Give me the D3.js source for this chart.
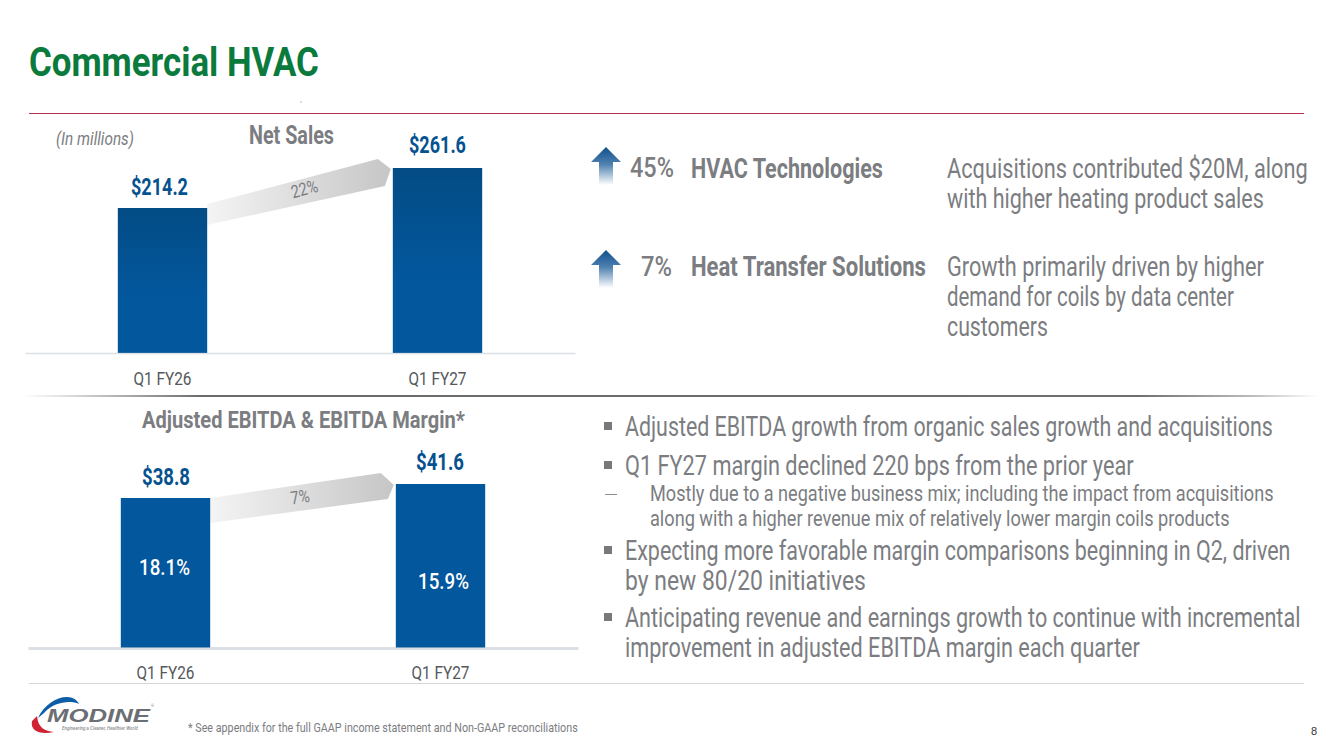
<!DOCTYPE html>
<html>
<head>
<meta charset="utf-8">
<script src="https://cdn.jsdelivr.net/npm/d3@7"></script>
<style>
  html, body { margin: 0; padding: 0; background: #fff; overflow: hidden; }
  text { font-family: "Roboto", sans-serif; }
</style>
</head>
<body>
<div id="chart"></div>
<script>
// chart data
const quarters = ["Q1 FY26", "Q1 FY27"];
const netSales = [214.2, 261.6];
const netSalesLabels = ["$214.2", "$261.6"];
const ebitda = [38.8, 41.6];
const ebitdaLabels = ["$38.8", "$41.6"];
const marginLabels = ["18.1%", "15.9%"];
const netSalesGrowth = "22%";
const ebitdaGrowth = "7%";

const segments = ["HVAC Technologies", "Heat Transfer Solutions"];
const segmentGrowth = ["45%", "7%"];

const blue = "#03579d", darkBlue = "#034c85", grey = "#7b7d81", ink = "#55585c";

const svg = d3.select("#chart").append("svg")
  .attr("width", 1333)
  .attr("height", 749);

const defs = svg.append("defs");

function linGrad(id, x2, y2, stops) {
  const g = defs.append("linearGradient").attr("id", id)
    .attr("x1", 0).attr("y1", 0).attr("x2", x2).attr("y2", y2);
  stops.forEach(s => g.append("stop").attr("offset", s[0]).attr("stop-color", s[1]));
}
linGrad("barFade", 0, 1, [[0, darkBlue], [0.6, blue], [1, blue]]);
linGrad("connector", 1, 0, [[0, "#f4f4f4"], [1, "#c6c6c6"]]);
linGrad("upArrow", 0, 1, [[0, "#0f4f8c"], [0.45, "#4f80b0"], [1, "#ffffff"]]);
linGrad("divider", 1, 0, [[0, "#ffffff"], [0.03, "#e2e2e2"], [0.14, "#6a6a6a"], [0.86, "#6e6e6e"], [0.95, "#bdbdbd"], [1, "#ffffff"]]);

// narrow a text sideways so it takes the width measured off the slide
function squeeze(t, w) {
  return w / t.node().getComputedTextLength();
}

function label(str, x, base, w, size, fill, opts = {}) {
  const t = svg.append("text")
    .attr("font-size", size)
    .attr("fill", fill)
    .attr("font-weight", opts.weight || "normal")
    .attr("font-style", opts.italic ? "italic" : "normal")
    .text(str);
  if (opts.family) t.style("font-family", opts.family);
  t.attr("transform", `translate(${x},${base}) scale(${squeeze(t, w)},1)`);
  return t;
}

// header, rules
label("Commercial HVAC", 29, 76, 290, 41, "#0a7b3c", { weight: "bold" });
svg.append("rect").attr("x", 29).attr("y", 113).attr("width", 1275).attr("height", 1)
  .attr("fill", "#b5304f");
svg.append("circle").attr("cx", 301).attr("cy", 102).attr("r", 0.5).attr("fill", "#555");
svg.append("rect").attr("x", 22).attr("y", 395).attr("width", 1296).attr("height", 2)
  .attr("fill", "url(#divider)");
svg.append("rect").attr("x", 29).attr("y", 683).attr("width", 1275).attr("height", 1)
  .attr("fill", "#d6d6d6");

function barPanel(cfg) {
  const x = d3.scaleBand()
    .domain(quarters)
    .range([cfg.left, cfg.left + 550])
    .paddingInner(0.675)
    .paddingOuter(0.3375);

  const y = d3.scaleLinear()
    .domain(cfg.domain)
    .range([cfg.base, cfg.top]);

  const bw = x.bandwidth();
  const x0 = x(quarters[0]) + bw, x1 = x(quarters[1]);
  const y0 = y(cfg.values[0]), y1 = y(cfg.values[1]);

  // growth connector between the bar tops
  const neck = x1 - 15;
  const pts = [
    [x0, y0 + cfg.startOff],
    [neck, y1 - cfg.tipUp],
    [x1 - 2, y1 + 1],
    [neck + 7, y1 + cfg.tipDown],
    [x0, y0 + cfg.startOff + cfg.bandH]
  ];
  const slope = (pts[1][1] - pts[0][1]) / (pts[1][0] - pts[0][0]);
  svg.append("path")
    .attr("d", d3.line()(pts) + "Z")
    .attr("fill", "url(#connector)");

  svg.selectAll(null)
    .data(cfg.values)
    .join("rect")
    .attr("class", "bar")
    .attr("x", (d, i) => x(quarters[i]))
    .attr("y", d => y(d))
    .attr("width", bw)
    .attr("height", d => cfg.base - y(d))
    .attr("fill", cfg.fill);

  // axis goes over the bars, the line shows as a pale strip at their feet
  const axis = svg.append("g")
    .attr("transform", `translate(0,${cfg.base})`)
    .call(d3.axisBottom(x).tickSize(0).tickPadding(cfg.tickPad));
  axis.select(".domain")
    .attr("stroke", "#c5ccd3")
    .attr("stroke-opacity", 0.6)
    .attr("stroke-width", cfg.axisW);
  axis.selectAll("text")
    .attr("font-size", 19)
    .attr("fill", ink)
    .style("font-family", '"Roboto", sans-serif')
    .each(function () {
      const t = d3.select(this);
      t.attr("transform", `scale(${squeeze(t, 58)},1)`);
    });

  // growth % on the connector
  const gx = (x0 + x1) / 2 + cfg.growthDx;
  const gy = (y0 + y1) / 2 + cfg.growthDy;
  const g = svg.append("text")
    .attr("text-anchor", "middle")
    .attr("font-size", 18)
    .attr("fill", grey)
    .text(cfg.growth);
  g.attr("transform", `translate(${gx},${gy}) rotate(${Math.atan(slope) * 180 / Math.PI}) scale(${squeeze(g, cfg.growthW)},1)`);

  // value labels over the bars
  cfg.labels.forEach((s, i) => {
    label(s, x(quarters[i]) + bw / 2 - 28.5 + cfg.labelDx[i], y(cfg.values[i]) - cfg.labelUp[i], cfg.labelW, 24, "#05528f", { weight: "bold" });
  });
  return { x, y, bw };
}

barPanel({
  left: 25, base: 353, top: 168, domain: [42.4, 261.6], values: netSales, labels: netSalesLabels,
  fill: "url(#barFade)", tickPad: 19, axisW: 1.5, growth: netSalesGrowth, growthDx: 6, growthDy: 7, growthW: 27,
  startOff: -4, tipUp: 9, tipDown: 18, bandH: 21, labelDx: [-3, 0], labelUp: [13, 15], labelW: 57
});
barPanel({
  left: 28, base: 648, top: 484, domain: [8.8, 41.6], values: ebitda, labels: ebitdaLabels,
  fill: blue, tickPad: 18, axisW: 3, growth: ebitdaGrowth, growthDx: -2, growthDy: 12, growthW: 19,
  startOff: 0, tipUp: 11, tipDown: 15, bandH: 25, labelDx: [5, 4], labelUp: [13, 14], labelW: 48
});

// margin % inside the EBITDA bars
label(marginLabels[0], 139, 575, 51, 22, "#ffffff", { weight: 500 });
label(marginLabels[1], 418, 589, 51, 22, "#ffffff", { weight: 500 });

label("(In millions)", 56, 145, 78, 18, grey, { italic: true });
label("Net Sales", 249, 144, 85, 25, grey, { weight: "bold" });
label("Adjusted EBITDA & EBITDA Margin*", 142, 428, 323, 24, grey, { weight: "bold" });

// segment call-outs
const arrowTops = [147, 250];
arrowTops.forEach(t => {
  svg.append("path")
    .attr("d", d3.line()([[606, t], [621, t + 15], [613, t + 15], [613, t + 38], [599, t + 38], [599, t + 15], [591, t + 15]]) + "Z")
    .attr("fill", "url(#upArrow)");
});
label(segmentGrowth[0], 630, 177, 44, 27, grey, { weight: 500 });
label(segmentGrowth[1], 641, 276, 31, 27, grey, { weight: 500 });
label(segments[0], 691, 178, 192, 27, grey, { weight: "bold" });
label(segments[1], 691, 276, 235, 27, grey, { weight: "bold" });

const calloutLines = [
  ["Acquisitions contributed $20M, along", 178, 361],
  ["with higher heating product sales", 208, 317],
  ["Growth primarily driven by higher", 276, 317],
  ["demand for coils by data center", 306, 287],
  ["customers", 336, 101]
];
calloutLines.forEach(d => label(d[0], 947, d[1], d[2], 27, grey));

// bullets
const bulletLines = [
  ["Adjusted EBITDA growth from organic sales growth and acquisitions", 625, 436, 648, 27, true],
  ["Q1 FY27 margin declined 220 bps from the prior year", 625, 475, 509, 27, true],
  ["Mostly due to a negative business mix; including the impact from acquisitions", 650, 501, 624, 22, false],
  ["along with a higher revenue mix of relatively lower margin coils products", 650, 526, 580, 22, false],
  ["Expecting more favorable margin comparisons beginning in Q2, driven", 625, 560, 666, 27, true],
  ["by new 80/20 initiatives", 625, 590, 241, 27, false],
  ["Anticipating revenue and earnings growth to continue with incremental", 625, 627, 676, 27, true],
  ["improvement in adjusted EBITDA margin each quarter", 625, 657, 515, 27, false]
];
bulletLines.forEach(d => {
  label(d[0], d[1], d[2], d[3], d[4], grey);
  if (d[5]) {
    svg.append("rect").attr("x", 604).attr("y", d[2] - 14).attr("width", 8).attr("height", 8).attr("fill", "#77797d");
  }
});
svg.append("rect").attr("x", 605).attr("y", 494).attr("width", 12).attr("height", 1).attr("fill", "#8c8c8c");

// footer
label("* See appendix for the full GAAP income statement and Non-GAAP reconciliations", 188, 732, 390, 13, grey);
svg.append("text").attr("x", 1311).attr("y", 735).attr("font-size", 11).attr("fill", "#333")
  .style("font-family", '"Liberation Sans", sans-serif').text("8");

// logo
svg.append("path").attr("d", "M38,718 C44,705 56,697 67,697 C73,697 77,700 79,704 C70,700 54,702 44,713 Z").attr("fill", "#0d5ea8");
svg.append("path").attr("d", "M32,721 C30,731 40,735 54,732 C45,731 38,728 37,716 Z").attr("fill", "#cf2233");
label("MODINE", 47, 722, 103, 19, "#6b6e72", { weight: "bold", italic: true, family: '"Liberation Sans", sans-serif' });
label("®", 151, 707, 3, 4, "#8a8c90");
label("Engineering a Cleaner, Healthier World", 62, 730, 76, 5, "#8a8c90", { italic: true, weight: 500 });
</script>
</body>
</html>
